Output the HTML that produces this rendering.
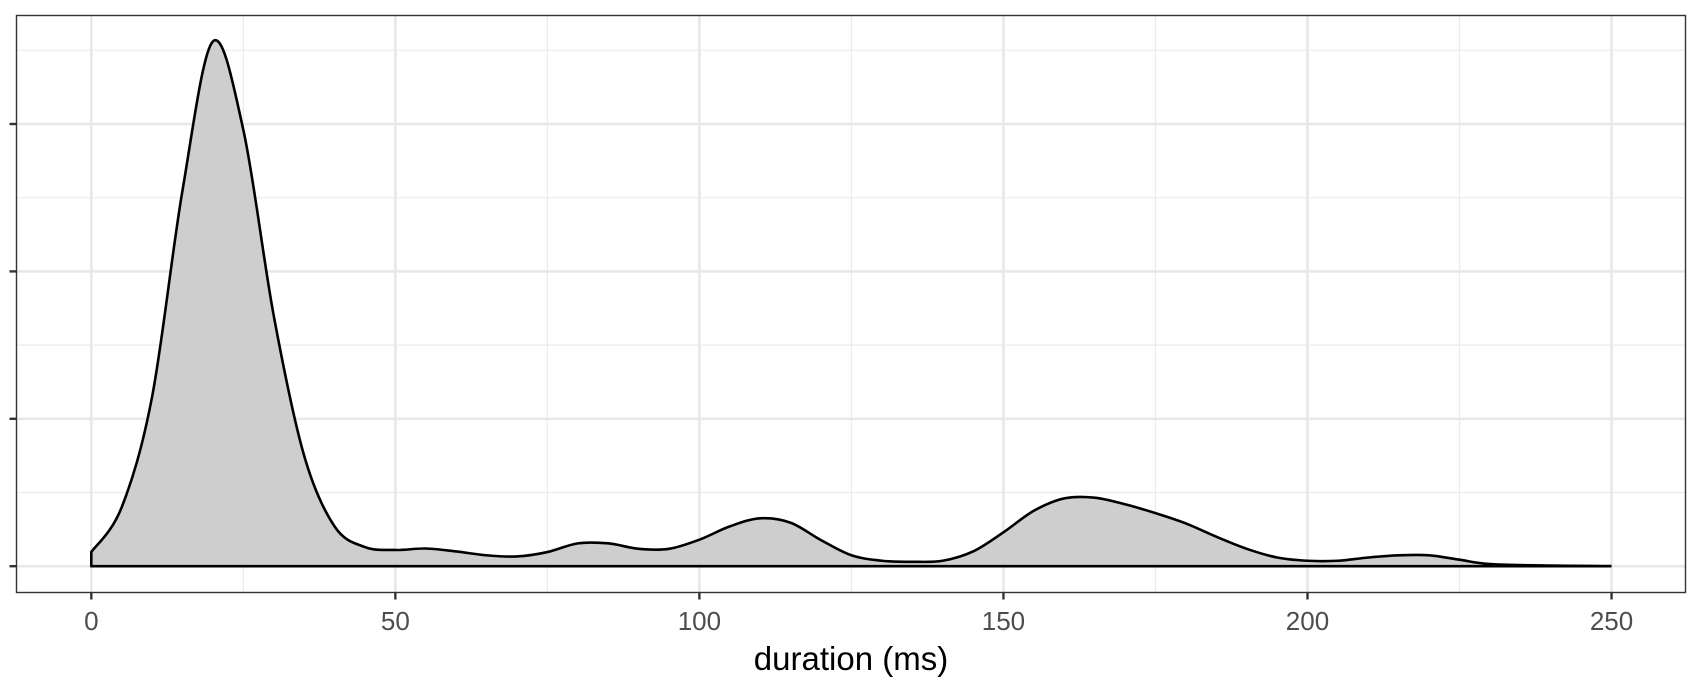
<!DOCTYPE html>
<html><head><meta charset="utf-8"><style>
body{margin:0;background:#fff}
svg{display:block;font-family:"Liberation Sans",Arial,sans-serif}
</style></head><body>
<svg id="chart" width="1704" height="688"></svg>
<script>
const xTicks=[0,50,100,150,200,250];
const xMinor=[25,75,125,175,225];
const yTicks=[0,1,2,3];
const yMinor=[0.5,1.5,2.5,3.5];
const durations=[0,5,10,15,20,25,30,35,40,45,50,55,60,65,70,75,80,85,90,95,100,105,110,115,120,125,130,135,140,145,150,155,160,165,170,175,180,185,190,195,200,205,210,215,220,225,230,240,250];
const densities=[0.096,0.40,1.15,2.55,3.56,2.96,1.70,0.75,0.27,0.13,0.11,0.12,0.10,0.074,0.066,0.096,0.155,0.155,0.118,0.118,0.18,0.27,0.325,0.295,0.177,0.074,0.037,0.03,0.037,0.10,0.23,0.376,0.46,0.465,0.42,0.36,0.29,0.20,0.118,0.059,0.037,0.037,0.059,0.074,0.074,0.044,0.015,0.004,0.001];
const NS="http://www.w3.org/2000/svg";
const svg=document.getElementById('chart');
const L=16.5,R=1685.5,T=15.5,B=592.5;
const X=v=>91.3+v*6.081;
const Y=v=>566.2-v*147.4;
function mk(tag,attrs,parent){const e=document.createElementNS(NS,tag);for(const k in attrs)e.setAttribute(k,attrs[k]);(parent||svg).appendChild(e);return e;}
const grid=mk('g',{});


yMinor.forEach(v=>mk('line',{x1:L,x2:R,y1:Y(v),y2:Y(v),stroke:'#ebebeb','stroke-width':1.2},grid));
xMinor.forEach(v=>mk('line',{x1:X(v),x2:X(v),y1:T,y2:B,stroke:'#ebebeb','stroke-width':1.2},grid));
yTicks.forEach(v=>mk('line',{x1:L,x2:R,y1:Y(v),y2:Y(v),stroke:'#e8e8e8','stroke-width':2.6},grid));
xTicks.forEach(v=>mk('line',{x1:X(v),x2:X(v),y1:T,y2:B,stroke:'#e8e8e8','stroke-width':2.6},grid));
const pts=durations.map((d,i)=>[X(d),Y(densities[i])]);
let d='M'+pts[0][0]+','+pts[0][1];
for(let i=0;i<pts.length-1;i++){const p0=pts[i-1]||pts[i],p1=pts[i],p2=pts[i+1],p3=pts[i+2]||p2;
const c1=[p1[0]+(p2[0]-p0[0])/6,p1[1]+(p2[1]-p0[1])/6],c2=[p2[0]-(p3[0]-p1[0])/6,p2[1]-(p3[1]-p1[1])/6];
d+=` C${c1[0]},${c1[1]} ${c2[0]},${c2[1]} ${p2[0]},${p2[1]}`;}
const area=mk('path',{d:d+` L${X(durations[durations.length-1])},${Y(0)} L${X(0)},${Y(0)} Z`,fill:'#cccccc',stroke:'none','fill-opacity':0.97});


const line=mk('path',{d:`M${X(durations[durations.length-1])},${Y(0)} L${X(0)},${Y(0)} L`+d.slice(1),fill:'none',stroke:'#000','stroke-width':2.6,'stroke-linejoin':'round'});


const panel=mk('rect',{x:L,y:T,width:R-L,height:B-T,fill:'none',stroke:'#333','stroke-width':1.4});


yTicks.forEach(v=>{const t=mk('line',{x1:L-7,x2:L,y1:Y(v),y2:Y(v),stroke:'#333','stroke-width':2.4});

});
xTicks.forEach(v=>{const t=mk('line',{x1:X(v),x2:X(v),y1:B,y2:B+7,stroke:'#333','stroke-width':2.4});


const l=mk('text',{x:X(v),y:630,'text-anchor':'middle','font-size':26,fill:'#4d4d4d'});l.textContent=v;

});
const title=mk('text',{x:(L+R)/2,y:670,'text-anchor':'middle','font-size':33,fill:'#000'});title.textContent='duration (ms)';


</script>
</body></html>
